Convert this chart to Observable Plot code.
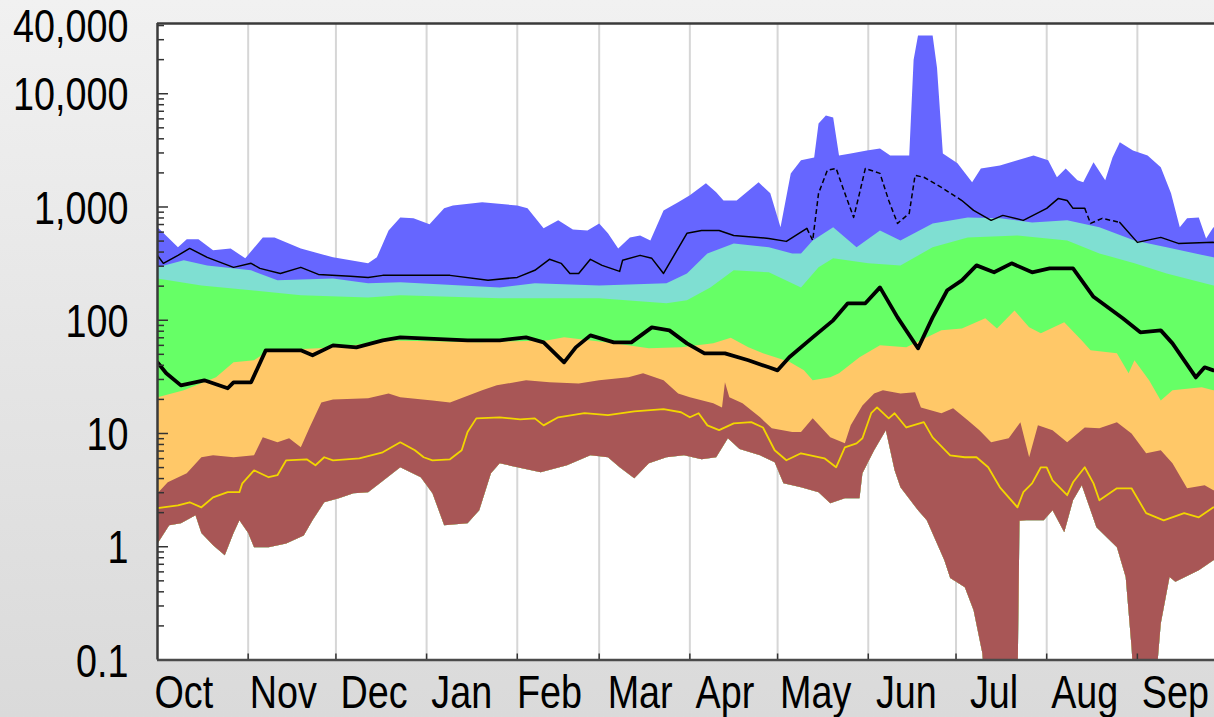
<!DOCTYPE html>
<html>
<head>
<meta charset="utf-8">
<script src="https://cdn.jsdelivr.net/npm/d3@7"></script>
<script src="https://cdn.jsdelivr.net/npm/@observablehq/plot@0.6"></script>
<style>
  html, body { margin: 0; padding: 0; overflow: hidden; }
  body { width: 1214px; height: 717px; background: linear-gradient(180deg, #f1f1f1 0%, #e4e4e4 55%, #dadada 100%); }
  #chart svg { display: block; background: transparent; }
</style>
</head>
<body>
<div id="chart"></div>
<script>
// ---------- data (day of water year from Oct 1, flow value) ----------
const monthNames = ["Oct","Nov","Dec","Jan","Feb","Mar","Apr","May","Jun","Jul","Aug","Sep"];
const monthStartDays = [0,31,61,92,123,151,182,212,243,273,304,335];
const monthLabelDays = [9,43,74,104,134,165,194,225,256,286,317,348];
const yTickValues = [0.1, 1, 10, 100, 1000, 10000, 40000];
const yTickLabels = ["0.1", "1", "10", "100", "1,000", "10,000", "40,000"];

// maximum (top of blue band)
const maxFlow = [[0,661],[7,440],[10,518],[14,518],[19,414],[25,431],[30,352],[36,539],[40,539],[49,431],[60,359],[72,318],[75,359],[79,621],[83,809],[87.5,794],[93,703],[98,973],[101,1030],[111,1100],[123,1030],[126.5,973],[132,648],[137,762],[142,634],[147,621],[151,716],[154,585],[157.5,431],[161.5,539],[165,561],[168.5,507],[173,933],[178,1100],[182,1270],[187.5,1620],[191,1350],[193.5,1140],[198,1140],[205.5,1650],[209.5,1320],[213,661],[216.5,1980],[220,2580],[224.5,2740],[226,5470],[228.5,6440],[231,6180],[233,2850],[237,2970],[242.5,3160],[247,3290],[250.5,2850],[257,2850],[258.5,20000],[260,32700],[265,32700],[266.5,17000],[268.5,2970],[273.5,2430],[278.5,1650],[281.5,2190],[288,2330],[294,2580],[299.5,2850],[304.5,2580],[307.5,1830],[310.5,2190],[314.5,1720],[316.5,1650],[320,2480],[324,1720],[326.5,2740],[329,3720],[333.5,3160],[338.5,2850],[343,2240],[346.5,1320],[349.5,661],[352,794],[356,809],[358.5,528],[361,661],[365,640]];
// 90th percentile (blue / cyan boundary)
const p90Flow = [[0,293],[9,338],[17,305],[32,276],[41,225],[60,234],[72,212],[83,216],[117,195],[129,212],[151,203],[174,212],[181,259],[188,389],[197,477],[209,440],[217,389],[220,389],[224,507],[231,661],[239,440],[247,621],[254,507],[265,716],[277,809],[288,794],[299,731],[311,762],[322,661],[334,507],[345,440],[361,359],[365,350]];
// 75th percentile (cyan / green boundary)
const p75Flow = [[0,234],[15,203],[32,184],[49,166],[72,159],[83,166],[117,156],[151,156],[174,141],[181,150],[189,195],[197,276],[209,265],[220,195],[226,293],[231,352],[243,318],[254,305],[265,440],[277,539],[294,561],[311,507],[322,389],[334,318],[345,259],[361,203],[365,200]];
// 25th percentile (green / orange boundary)
const p25Flow = [[0,20.9],[9,24.1],[20,31.3],[26,42.5],[33,44.3],[38,54],[55,56.5],[67,60],[80,66.4],[110,64],[133,66.4],[139,70.6],[156,62.5],[168,56.5],[179,57.6],[190,62.5],[196,70],[202,57.6],[207,51],[216,43],[221,36.1],[224,29.5],[230,31.3],[233,34],[240,47.1],[247,60],[256,57.6],[268,81.4],[275,84.7],[283,104],[287,84.7],[293,122],[298,86.5],[302,76.6],[310,95.8],[316,66.4],[319,54.2],[328,51],[332,34],[334,44.3],[339,29.5],[343,19.6],[347,24.1],[357,25.6],[361,24.1],[365,24]];
// 10th percentile (orange / brown boundary)
const p10Flow = [[0,2.97],[3.5,3.71],[10,4.46],[15,6.17],[19,6.42],[26,6.17],[33,6.42],[36,9.25],[41,8.36],[45,9.07],[49,7.55],[52,11.3],[56,18.8],[60,20],[72,20.5],[79,22.6],[83,20.9],[94,19.6],[100,18.8],[111,24.1],[116,26.6],[126,29.5],[134,28.3],[144,27.7],[151,29.5],[161,31.3],[166,34],[173,29.5],[178,22.6],[182,20.9],[190,18.5],[193,17],[194,28.3],[195.5,20.9],[200,18.5],[206,13.9],[210,11.1],[217,10.3],[220,10.3],[224,13.6],[230,9.25],[235,8.19],[237,11.8],[241,17.7],[245,22.6],[248,24.1],[254,22.6],[259,23.1],[261,17],[268,15.1],[272,16.7],[277,13.1],[281,10.7],[285,8.36],[291,9.07],[295,12.6],[298,6.17],[301,11.8],[306,10.7],[311,8.36],[317,11.3],[322,11.1],[328,12.6],[333,10],[338,6.69],[343,7.11],[347,5.46],[352,3.28],[358,3.49],[361,3.15],[365,3.1]];
// minimum (bottom of brown band)
const minFlow = [[0,1.07],[4,1.55],[8,1.61],[13,1.9],[15,1.32],[19,1.03],[23,0.84],[26,1.32],[28,1.71],[31,1.32],[33,0.99],[38,0.99],[44,1.07],[50,1.26],[53,1.71],[57,2.47],[62,2.68],[67,2.97],[72,3.03],[76,3.63],[83,5.03],[90,4.11],[94,2.97],[98,1.55],[106,1.61],[110,2.1],[114,4.46],[117,5.46],[123,5.03],[131,4.55],[140,5.24],[148,6.42],[154,6.17],[158,5.03],[163,4.03],[168,5.46],[174,6.17],[180,6.42],[186,5.92],[191,6.17],[195,9.07],[199,7.3],[206,6.42],[211,5.57],[214,3.63],[220,3.35],[226,3.03],[230,2.42],[235,2.68],[240,2.68],[241,4.46],[245,7.11],[249,10.7],[252,4.73],[254,3.35],[260,2.1],[263,1.71],[269,0.76],[271,0.53],[276,0.44],[279,0.275],[282,0.115],[283,0.05],[294,0.05],[294.7,1.7],[297,1.71],[303,1.71],[306,2.1],[310,1.34],[313,2.57],[316,3.49],[321,1.49],[328,0.99],[331,0.54],[333,0.13],[334,0.05],[341,0.05],[343,0.21],[346,0.54],[348,0.49],[356,0.62],[361,0.76],[365,0.8]];
// thin black line (mean)
const meanFlow = [[0,374],[2,318],[7,374],[11,431],[17,359],[26,293],[32,318],[35,287],[42,259],[49,293],[55,254],[66,244],[72,239],[77,249],[83,249],[100,249],[113,225],[123,239],[129,276],[134,345],[138,318],[141,259],[144,259],[148,345],[152,305],[158,270],[159,338],[165,374],[169,352],[173,259],[175,318],[181,585],[186,621],[192,621],[197,561],[209,528],[215,497],[222,648],[224,507],[226,1320],[229,2110],[232,2190],[235,1320],[238,809],[240,1320],[242,2190],[247,1980],[250,1140],[253,716],[257,879],[259,1900],[262,1830],[268,1490],[275,1140],[279,933],[285,762],[289,843],[296,762],[304,973],[308,1190],[311,1140],[313,973],[317,973],[319,716],[323,794],[329,731],[335,487],[343,539],[349,477],[361,487],[365,480]];
const meanDashedRanges = [[222,275],[317,329]];
// thick black line (current year)
const currentFlow = [[0,42.5],[3,34],[8,26.6],[16,29.5],[24,25.1],[26,28.3],[32,28.3],[37,54.2],[49,54.2],[53,49],[60,60],[68,57.6],[77,66.4],[83,70.6],[106,66.4],[117,66.4],[126,70.6],[132,63.8],[139,42.5],[143,57.6],[148,73.5],[156,63.8],[162,63.8],[169,86.5],[175,81.4],[181,62.5],[187,51],[194,51],[202,44.3],[209,38.4],[212,36.1],[216,47.1],[224,70.6],[231,99.8],[236,141],[242,141],[247,195],[253,106],[260,56.5],[265,106],[270,184],[275,225],[280,305],[286,265],[292,318],[299,265],[305,287],[313,287],[320,161],[330,104],[336,78.2],[343,81.4],[347,62.5],[355,31.3],[358,38.4],[361,36.1],[365,36]];
// yellow line
const yellowFlow = [[0,2.19],[7,2.32],[11,2.47],[15,2.23],[19,2.73],[24,3.03],[28,3.03],[29,3.63],[33,4.73],[38,4.11],[41,4.28],[44,5.8],[51,5.92],[54,5.24],[57,6.17],[60,5.8],[69,6.04],[77,6.82],[83,8.36],[88,7.11],[91,6.17],[94,5.8],[100,5.92],[104,7.11],[106,10.3],[109,13.6],[117,13.9],[124,13.3],[129,13.6],[132,11.8],[137,13.9],[146,15.1],[154,14.5],[163,15.7],[173,16.4],[179,15.4],[182,13.9],[185,15.1],[188,11.8],[192,10.7],[197,12.3],[203,12.6],[207,11.3],[211,7.11],[215,5.8],[220,6.69],[228,6.04],[232,5.03],[235,7.55],[239,8.19],[241,9.07],[244,15.1],[246,17],[250,13.6],[252,15.1],[256,11.3],[262,12.6],[265,9.25],[271,6.42],[276,6.17],[280,6.17],[284,5.03],[288,3.35],[294,2.23],[296,3.03],[299,3.63],[302,5.03],[304,5.03],[306,3.86],[311,2.85],[313,3.71],[317,5.03],[320,3.63],[322,2.57],[328,3.28],[333,3.28],[338,1.98],[344,1.71],[351,1.98],[356,1.82],[361,2.23],[365,2.2]];

// ---------- helpers ----------
const start = Date.UTC(2001, 9, 1);
const toDate = d => new Date(start + d * 864e5);
const pts = arr => arr.map(([d, v]) => ({date: toDate(d), v}));
const band = (top, bottom) => [...pts(top), ...pts(bottom).reverse()];

const monthStarts = monthStartDays.map(toDate);
const labelDates = monthLabelDays.map(toDate);
const yDomain = [0.1, 41700];

// minor ticks 2..9 per decade
const minorTicks = [];
for (let e = -1; e <= 4; e++) for (let m = 2; m <= 9; m++) {
  const v = m * Math.pow(10, e);
  if (v < yDomain[1]) minorTicks.push(v);
}
const majorTicks = [0.1, 1, 10, 100, 1000, 10000];

// split mean line into solid / dashed segments
const isDash = m => meanDashedRanges.some(([a, b]) => m > a && m < b);
const solidSegs = [], dashSegs = [];
let curType = null, segId = 0;
for (let i = 0; i < meanFlow.length - 1; i++) {
  const a = meanFlow[i], b = meanFlow[i + 1];
  const t = isDash((a[0] + b[0]) / 2);
  const target = t ? dashSegs : solidSegs;
  if (t !== curType) { segId++; curType = t; target.push({z: segId, date: toDate(a[0]), v: a[1]}); }
  target.push({z: segId, date: toDate(b[0]), v: b[1]});
}

const W = 1214, H = 717, mL = 157, mT = 23, mB = 57.5;
const frameW = W - mL, frameH = H - mT - mB;
const pxPerDay = 2.925;
const yLabelData = yTickValues.map((v, i) => ({v, label: yTickLabels[i]}));

const chart = Plot.plot({
  width: W, height: H,
  marginLeft: mL, marginRight: 0, marginTop: mT, marginBottom: mB,
  style: {background: "transparent", fontFamily: "'Liberation Sans', Arial, sans-serif", fontSize: "46px", color: "black"},
  x: {type: "utc", domain: [toDate(0), toDate(365)], range: [mL, mL + 365 * pxPerDay]},
  y: {type: "log", domain: yDomain, axis: null},
  marks: [
    Plot.frame({fill: "white", stroke: "none"}),
    Plot.ruleX(monthStarts.slice(1), {x: d => d, stroke: "#d6d6d6", strokeWidth: 2}),
    Plot.line(band(maxFlow, minFlow), {x: "date", y: "v", fill: "#6666ff", stroke: "none", clip: true}),
    Plot.line(band(p90Flow, minFlow), {x: "date", y: "v", fill: "#7fdfd2", stroke: "none", clip: true}),
    Plot.line(band(p75Flow, minFlow), {x: "date", y: "v", fill: "#66ff66", stroke: "none", clip: true}),
    Plot.line(band(p25Flow, minFlow), {x: "date", y: "v", fill: "#ffc868", stroke: "none", clip: true}),
    Plot.line(band(p10Flow, minFlow), {x: "date", y: "v", fill: "#a85656", stroke: "none", clip: true}),
    Plot.line(pts(yellowFlow), {x: "date", y: "v", stroke: "#f2d600", strokeWidth: 1.8, clip: true}),
    Plot.line(solidSegs, {x: "date", y: "v", z: "z", stroke: "black", strokeWidth: 1.5, clip: true}),
    Plot.line(dashSegs, {x: "date", y: "v", z: "z", stroke: "black", strokeWidth: 1.5, strokeDasharray: "5,3", strokeLinecap: "butt", clip: true}),
    Plot.line(pts(currentFlow), {x: "date", y: "v", stroke: "black", strokeWidth: 3.8, clip: true}),
    // inward tick marks
    Plot.tickY(majorTicks, {y: d => d, stroke: "#333", strokeWidth: 1.5, insetRight: frameW - 11}),
    Plot.tickY(minorTicks, {y: d => d, stroke: "#333", strokeWidth: 1.5, insetRight: frameW - 7}),
    Plot.tickX(monthStarts.slice(1), {x: d => d, stroke: "#333", strokeWidth: 1.5, insetTop: frameH - 6}),
    // frame borders (top, left, bottom)
    Plot.ruleY([yDomain[1]], {stroke: "#3a3a3a", strokeWidth: 2.5}),
    Plot.ruleY([yDomain[0]], {stroke: "#4a4a4a", strokeWidth: 2.5}),
    Plot.ruleX([toDate(0)], {stroke: "#3a3a3a", strokeWidth: 2.5}),
    // y tick labels
    Plot.text(yLabelData, {y: "v", text: "label", frameAnchor: "left", textAnchor: "end", dx: -29, dy: 2, fontSize: 46, fill: "black"}),
    // month labels
    Plot.axisX({ticks: labelDates, tickFormat: (d) => monthNames[labelDates.findIndex(t => +t === +d)], tickSize: 0, tickPadding: 15, fontSize: 46, fill: "black", label: null})
  ]
});
document.getElementById("chart").appendChild(chart);

// condense the axis text horizontally (narrow typeface look)
chart.querySelectorAll("text").forEach(t => {
  const w = t.getComputedTextLength();
  if (w > 0) {
    t.setAttribute("textLength", (w * 0.82).toFixed(1));
    t.setAttribute("lengthAdjust", "spacingAndGlyphs");
  }
});
</script>
</body>
</html>
